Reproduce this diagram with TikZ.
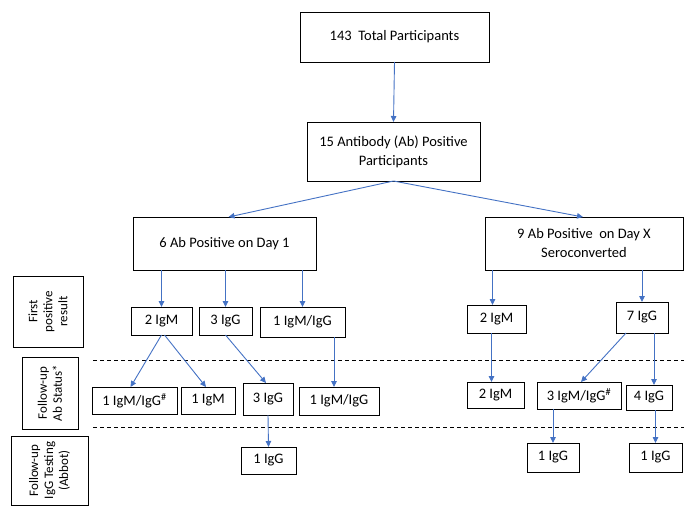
\documentclass[tikz,border=0pt]{standalone}
\usepackage{fontspec}
\setmainfont{Carlito}
\usetikzlibrary{arrows.meta}
\definecolor{arrowblue}{RGB}{68,114,196}
\tikzset{
  box/.style={draw=black, line width=1pt, fill=white, inner sep=1pt, outer sep=0pt, align=center, font=\fontsize{14.5}{19}\selectfont},
  lbox/.style={draw=black, line width=1pt, inner sep=1pt, outer sep=0pt},
  conn/.style={draw=arrowblue, line width=0.9pt, -{Triangle[length=6pt,width=5.5pt]}},
  sep/.style={draw=black, line width=0.9pt, dash pattern=on 4pt off 3pt}
}
\newcommand\bx[6]{\node[box,minimum width={(#4-#2)*1pt},minimum height={(#5-#3)*1pt}] (#1) at ({(#2+#4)/2},{(#3+#5)/2}) {#6};}
\newcommand\lb[6]{\node[lbox,minimum width={(#4-#2)*1pt},minimum height={(#5-#3)*1pt}] (#1) at ({(#2+#4)/2},{(#3+#5)/2}) {};
\node[rotate=90, align=center, font=\fontsize{13}{15}\selectfont] at (#1.center) {#6};}
\begin{document}
\begin{tikzpicture}[x=1pt,y=-1pt]
\useasboundingbox (0,0) rectangle (684,506);
% main boxes
\bx{total}{300}{12}{489}{62}{143 \ Total Participants}
\bx{ab}{307}{122}{480}{181}{15 Antibody (Ab) Positive\\Participants}
\bx{dayone}{133}{217}{316}{270}{6 Ab Positive on Day 1}
\bx{dayx}{485}{217}{683}{270}{9 Ab Positive \ on Day X\\Seroconverted}
% row 1
\bx{igmA}{131}{307}{192}{335}{2 IgM}
\bx{iggA}{199}{307}{252}{335}{3 IgG}
\bx{mixA}{260}{307}{345}{337}{1 IgM/IgG}
\bx{igmB}{467}{305}{526}{333}{2 IgM}
\bx{iggB}{616}{302}{668}{333}{7 IgG}
% row 2
\bx{ra}{92}{387}{177}{414}{1 IgM/IgG\textsuperscript{\#}}
\bx{rb}{181}{387}{235}{414}{1 IgM}
\bx{rc}{243}{383}{293}{415}{3 IgG}
\bx{rd}{299}{387}{379}{415}{1 IgM/IgG}
\bx{re}{467}{382}{524}{408}{2 IgM}
\bx{rf}{537}{382}{621}{409}{3 IgM/IgG\textsuperscript{\#}}
\bx{rg}{626}{385}{672}{410}{4 IgG}
% row 3
\bx{sa}{241}{447}{296}{474}{1 IgG}
\bx{sb}{527}{443}{579}{472}{1 IgG}
\bx{sc}{629}{443}{682}{472}{1 IgG}
% left labels
\lb{lone}{13}{276}{83}{347}{First\\positive\\result}
\lb{ltwo}{22}{357}{78}{429}{Follow-up\\Ab Status*}
\lb{lthree}{11}{436}{88}{505}{Follow-up\\IgG Testing\\(Abbot)}
% dashed separators
\coordinate (d1l) at (93,360);
\coordinate (d1r) at (684,360);
\coordinate (d2l) at (93,427);
\coordinate (d2r) at (684,427);
\draw[sep] (d1l) -- (d1r);
\draw[sep] (d2l) -- (d2r);
% connectors
\draw[conn] (total.south) -- (ab.north);
\draw[conn] (ab.south) -- ([xshift=4pt]dayone.north);
\draw[conn] (ab.south) -- ([xshift=-1pt]dayx.north);
\draw[conn] (dayone.south -| igmA.north) -- (igmA.north);
\draw[conn] (dayone.south -| iggA.north) -- (iggA.north);
\draw[conn] (dayone.south -| mixA.north) -- (mixA.north);
\draw[conn] ([xshift=-4pt]dayx.south -| igmB.north) -- ([xshift=-4pt]igmB.north);
\draw[conn] (dayx.south -| iggB.north) -- (iggB.north);
\draw[conn] (igmA.south) -- ([xshift=-4pt]ra.north);
\draw[conn] ([xshift=3pt]igmA.south) -- ([xshift=-2pt]rb.north);
\draw[conn] (iggA.south) -- ([xshift=-2pt]rc.north);
\draw[conn] ([xshift=-5pt]rd.north |- mixA.south) -- ([xshift=-5pt]rd.north);
\draw[conn] ([xshift=-4pt]re.north |- igmB.south) -- ([xshift=-4pt]re.north);
\draw[conn] ([xshift=-16pt]iggB.south) -- ([xshift=2pt]rf.north);
\draw[conn] ([xshift=5pt]rg.north |- iggB.south) -- ([xshift=5pt]rg.north);
\draw[conn] (rc.south) -- (sa.north);
\draw[conn] (rf.south -| sb.north) -- (sb.north);
\draw[conn] (rg.south -| sc.north) -- (sc.north);
\end{tikzpicture}
\end{document}
